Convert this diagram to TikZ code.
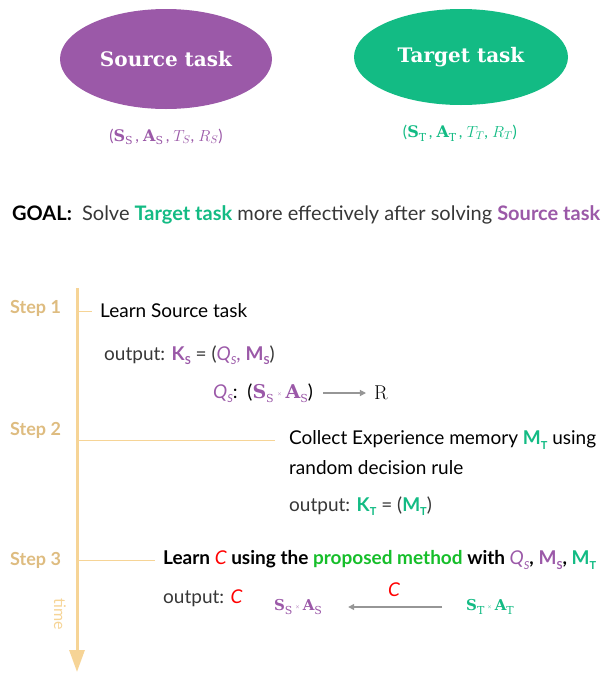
\RequirePackage{fix-cm}
\documentclass[tikz,border=0pt]{standalone}
\usepackage[no-math]{fontspec}
\setmainfont{Lato}
\newfontfamily\slab{DejaVu Serif}
\usetikzlibrary{shapes.geometric,arrows.meta}

\definecolor{srcpurple}{RGB}{155,89,168}
\definecolor{tgtgreen}{RGB}{19,187,132}
\definecolor{timeline}{RGB}{246,212,150}
\definecolor{steptan}{RGB}{222,188,128}
\definecolor{textgrey}{RGB}{55,55,55}
\definecolor{methodgreen}{RGB}{22,190,42}
\definecolor{arrowgrey}{RGB}{150,150,150}

% small lowered index
\newcommand{\lowtxt}[1]{\raisebox{-0.45ex}{\fontsize{11}{11}\selectfont #1}}
\newcommand{\setS}[1]{{\slab\bfseries S}\lowtxt{\slab #1}}
\newcommand{\setA}[1]{{\slab\bfseries A}\lowtxt{\slab #1}}
\newcommand{\boldM}[1]{\textbf{M}\lowtxt{\bfseries #1}}
\newcommand{\boldK}[1]{\textbf{K}\lowtxt{\bfseries #1}}
\newcommand{\qfun}{\textit{Q}\lowtxt{\itshape S}}

\tikzset{
  taskell/.style={ellipse, inner sep=0pt, text=white,
    font=\slab\bfseries\fontsize{20}{24}\selectfont},
  tuple/.style={font=\fontsize{16}{19}\selectfont},
  steplbl/.style={anchor=west, inner sep=0pt, text=steptan,
    font=\bfseries\fontsize{18}{21}\selectfont},
  body/.style={anchor=west, inner sep=0pt, font=\fontsize{19}{22}\selectfont},
  tick/.style={timeline, line width=1pt, shorten >=8pt}
}

\begin{document}
\begin{tikzpicture}[x=1pt, y=-1pt]
  \useasboundingbox (0,0) rectangle (605,673);

  % the two tasks
  \node[taskell, fill=srcpurple, minimum width=212pt, minimum height=100pt] (source) at (166,59) {Source task};
  \node[taskell, fill=tgtgreen, minimum width=214pt, minimum height=96pt] (target) at (461,57) {Target task};
  \node[tuple, text=srcpurple] (srctuple) at (166,137) {(\setS{S}\,, \setA{S}\,, $T_S$, $R_S$)};
  \node[tuple, text=tgtgreen] (tgttuple) at (460,133) {(\setS{T}\,, \setA{T}\,, $T_T$, $R_T$)};

  % goal
  \node[anchor=west, inner sep=0pt, text=textgrey, font=\fontsize{20}{24}\selectfont] (goal) at (12,215)
    {\textcolor{black}{\bfseries GOAL:}\ \ Solve \textcolor{tgtgreen}{\bfseries Target task} more effectively after solving \textcolor{srcpurple}{\bfseries Source task}};

  % time axis
  \coordinate (ttop) at (77,288);
  \coordinate (tend) at (77,672);
  \draw[timeline, line width=3pt, -{Triangle[width=15pt,length=22pt]}] (ttop) -- (tend);
  \node[rotate=-90, text=timeline, font=\fontsize{16}{19}\selectfont] (time) at (60,614) {time};

  \node[steplbl] (step1) at (10,308) {Step 1};
  \node[steplbl] (step2) at (10,430) {Step 2};
  \node[steplbl] (step3) at (10,560) {Step 3};

  % step 1
  \node[body] (learn1) at (100,311) {Learn Source task};
  \node[body, text=textgrey] (out1) at (104,355)
    {output: \textcolor{srcpurple}{\boldK{S}} = (\textcolor{srcpurple}{\qfun,} \textcolor{srcpurple}{\boldM{S}})};
  \node[body] (qmap) at (213,393) {\textcolor{srcpurple}{\qfun}:\ \ (\textcolor{srcpurple}{\setS{S}\,\raisebox{0.3ex}{\tiny$\times$}\,\setA{S}})};
  \node[inner sep=0pt, font=\fontsize{20}{23}\selectfont] (rset) at (381,393) {$\mathrm{R}$};
  \draw[arrowgrey, line width=1.2pt, -{Triangle[width=6pt,length=6pt]}, shorten <=10pt, shorten >=8pt] (qmap.east) -- (rset.west);

  % step 2
  \node[body] (coll1) at (289,440) {Collect Experience memory \textcolor{tgtgreen}{\boldM{T}} using};
  \node[body] (coll2) at (289,468) {random decision rule};
  \node[body, text=textgrey] (out2) at (289,506)
    {output: \textcolor{tgtgreen}{\boldK{T}} = (\textcolor{tgtgreen}{\boldM{T}})};

  % step 3
  \node[body, font=\bfseries\fontsize{19}{22}\selectfont] (learn3) at (163,560)
    {Learn \textcolor{red}{\mdseries\itshape C} using the \textcolor{methodgreen}{proposed method} with \textcolor{srcpurple}{\mdseries\qfun}, \textcolor{srcpurple}{\boldM{S}}, \textcolor{tgtgreen}{\boldM{T}}};
  \node[body, text=textgrey] (out3) at (163,598) {output: \textcolor{red}{\itshape C}};
  \node[text=srcpurple, inner sep=0pt, font=\fontsize{15}{18}\selectfont] (sspace) at (298,607)
    {\setS{S}\,\raisebox{0.3ex}{\tiny$\times$}\,\setA{S}};
  \node[text=tgtgreen, inner sep=0pt, font=\fontsize{15}{18}\selectfont] (tspace) at (490,607)
    {\setS{T}\,\raisebox{0.3ex}{\tiny$\times$}\,\setA{T}};
  \draw[arrowgrey, line width=1.2pt, -{Triangle[width=6pt,length=6pt]}, shorten <=24pt, shorten >=26pt] (tspace.west) -- (sspace.east)
    node[midway, above=6pt, text=red, font=\itshape\fontsize{19}{22}\selectfont] (cmap) {C};

  % ticks from the axis
  \coordinate (t1) at (77,311);
  \coordinate (t2) at (77,440);
  \coordinate (t3) at (77,560);
  \draw[tick] (t1) -- (t1 -| learn1.west);
  \draw[tick, shorten >=14pt] (t2) -- (t2 -| coll1.west);
  \draw[tick] (t3) -- (t3 -| learn3.west);
\end{tikzpicture}
\end{document}
